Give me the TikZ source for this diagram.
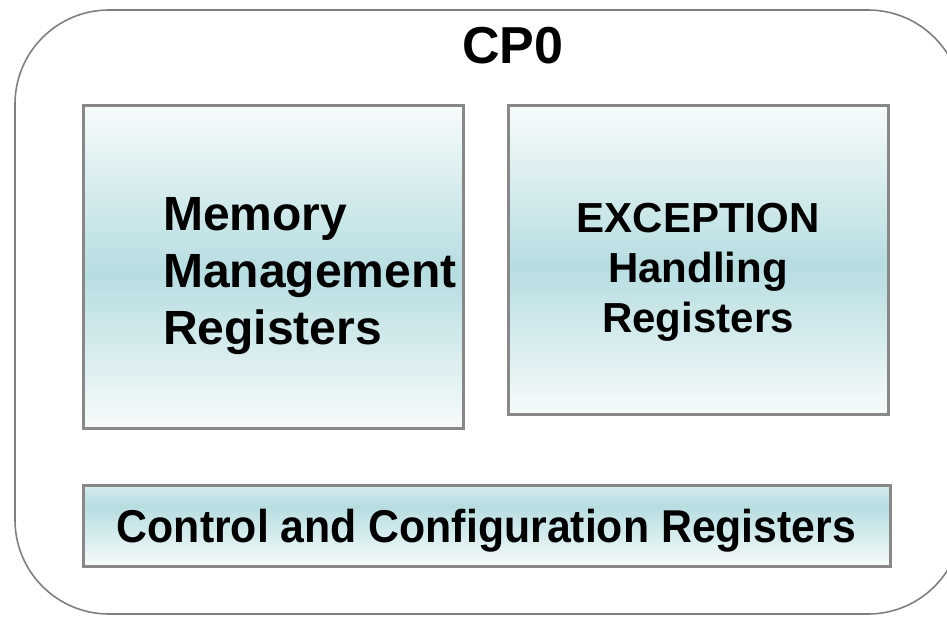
\documentclass[tikz,border=0pt]{standalone}
\usepackage{fontspec}
\setmainfont{Liberation Sans}
\usetikzlibrary{positioning}

\definecolor{edgegray}{HTML}{888888}
\definecolor{framegray}{HTML}{7F7F7F}
\definecolor{regteal}{HTML}{B7DDE1}
\definecolor{reglight}{HTML}{F7FBFB}
\definecolor{regtop}{HTML}{D6ECEE}

\pgfdeclareverticalshading{regshade}{100bp}{color(0bp)=(reglight); color(25bp)=(reglight); color(49bp)=(regteal); color(75bp)=(reglight); color(100bp)=(reglight)}
\pgfdeclareverticalshading{ctrlshade}{100bp}{color(0bp)=(reglight); color(25bp)=(reglight); color(62bp)=(regteal); color(75bp)=(regtop); color(100bp)=(regtop)}

\begin{document}
\begin{tikzpicture}[x=1pt, y=-1pt,
regbox/.style={rectangle, draw=edgegray, line width=3pt, shading=regshade, inner sep=0pt, outer sep=0pt},
ctrlbox/.style={regbox, shading=ctrlshade},
regtext/.style={font=\bfseries\fontsize{48}{57}\selectfont, align=left, inner sep=0pt},
]
\useasboundingbox (0,0) rectangle (947,616);

% outer CP0 frame
\draw[framegray, line width=1.6pt, rounded corners=94pt] (15,10) rectangle (962,614);

\node[font=\bfseries\fontsize{52}{60}\selectfont, anchor=base] (cp0) at (513,63) {CP0};

% register groups
\node[regbox, minimum width=380pt, minimum height=323pt] (mmr) at (273,266.5) {};
\node[regbox, minimum width=380pt, minimum height=309pt, right=45pt of mmr.north east, anchor=north west] (ehr) {};
\node[ctrlbox, minimum width=807pt, minimum height=81pt, below=57pt of mmr.south west, anchor=north west] (ccr) {};

\node[regtext, anchor=west] (mmrtext) at ([xshift=80pt, yshift=-10pt]mmr.west) {Memory\\Management\\Registers};
\node[regtext, font=\bfseries\fontsize{42}{50}\selectfont, align=center] (ehrtext) at ([yshift=-13pt]ehr.center) {EXCEPTION\\Handling\\Registers};
\node[regtext, font=\bfseries\fontsize{46}{53}\selectfont] (ccrtext) at ([yshift=-5pt]ccr.center) {\scalebox{0.93}[1]{Control and Configuration Registers}};
\end{tikzpicture}
\end{document}
